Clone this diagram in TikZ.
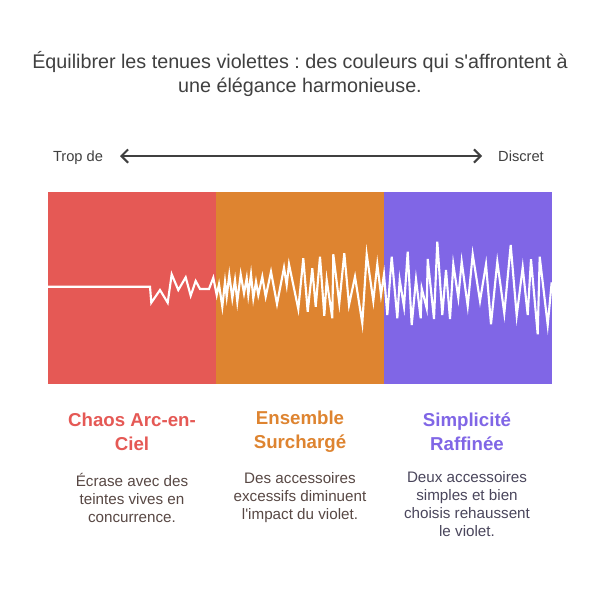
\documentclass[tikz,border=0pt]{standalone}
\usepackage{fontspec}
\setmainfont{Liberation Sans}
\usetikzlibrary{arrows.meta}
\frenchspacing
\definecolor{chaosred}{RGB}{229,89,85}
\definecolor{surorange}{RGB}{222,132,48}
\definecolor{simpurple}{RGB}{128,102,230}
\definecolor{titlegrey}{RGB}{64,64,64}
\definecolor{bodybrown}{RGB}{88,72,68}
\definecolor{bodyslate}{RGB}{74,70,92}
\tikzset{
	band/.style={fill=#1,draw=none},
	heading/.style={text=#1,font=\fontsize{14}{18}\selectfont\bfseries,align=center,inner sep=0pt},
	blurb/.style={text=#1,font=\fontsize{11.4}{13.5}\selectfont,align=center,inner sep=0pt},
	endlabel/.style={text=titlegrey,font=\fontsize{11}{13}\selectfont,inner sep=0pt,text height=8pt,text depth=0pt}
}
\begin{document}
\begin{tikzpicture}[x=0.75pt,y=-0.75pt]
	\useasboundingbox (0,0) rectangle (600,589);
	\fill[white] (0,0) rectangle (600,589);

	\node[text=titlegrey,font=\fontsize{14.8}{18}\selectfont,align=center,inner sep=0pt] (title) at (300,74)
		{Équilibrer les tenues violettes : des couleurs qui s\textquotesingle affrontent à\\une élégance harmonieuse.};

	\node[endlabel] (trop) at (78,156) {Trop de};
	\node[endlabel] (discret) at (521,156) {Discret};
	\coordinate (left) at (120,156);
	\coordinate (right) at (482,156);
	\draw[titlegrey,line width=1.5pt,{Straight Barb[length=5pt,width=10pt]}-{Straight Barb[length=5pt,width=10pt]}] (left) -- (right);

	\fill[band=chaosred] (48,192) rectangle (216,384);
	\fill[band=surorange] (216,192) rectangle (384,384);
	\fill[band=simpurple] (384,192) rectangle (552,384);

	\draw[white,line width=1.6pt,line join=miter] (48,286.7) -- (150,286.7)
		-- (151.3,302.7) -- (160,290) -- (167.7,302.7) -- (171.7,274.3) -- (178.3,290)
		-- (185.7,277.3) -- (190.7,295.7) -- (195.7,281) -- (200,289) -- (209,289)
		-- (213.3,277.7) -- (216.7,295) -- (219,284.3) -- (222.3,306.7) -- (225,281.7)
		-- (226.7,296.7) -- (229.3,275) -- (232.3,298.3) -- (235,280) -- (237.3,301.7)
		-- (240.7,274.3) -- (244,293.3) -- (246.7,278.3) -- (248.3,295) -- (251,274.3)
		-- (253.3,298.3) -- (256,281.7) -- (258.3,295) -- (262.3,276.7) -- (265.7,296.7)
		-- (271,271.7) -- (277,304) -- (284,267.7) -- (286.7,285) -- (289,264.3)
		-- (298.3,309) -- (303.3,258.3) -- (307.7,311.7) -- (312.3,268.3) -- (315.7,306.7)
		-- (320,256.7) -- (324.3,315.7) -- (326.7,280) -- (332.3,318.3) -- (333.3,254.3)
		-- (339.3,303.3) -- (344.3,253.3) -- (349,305) -- (355,276.7) -- (362.3,323.3)
		-- (366.7,254.3) -- (373.3,301) -- (377.3,264.3) -- (381,295) -- (384,274.3)
		-- (387.3,315) -- (391.7,256.7) -- (397.3,318.3) -- (399.7,280) -- (404,306.7)
		-- (407.7,251.7) -- (411.7,325) -- (416,279.3) -- (420.7,318.3) -- (421.7,288.3)
		-- (426.7,308.3) -- (427.7,259) -- (434,319) -- (437.3,241.7) -- (442.3,315)
		-- (446,270) -- (450,319) -- (453.3,264.3) -- (458.3,297.7) -- (461.7,261.7)
		-- (467.7,306) -- (472.7,254.3) -- (480,301) -- (486,264.3) -- (491,324.3)
		-- (497.3,261.7) -- (504.3,313.3) -- (510.7,245) -- (516.7,315.7) -- (522.7,267.3)
		-- (527.7,315) -- (531,259.3) -- (537.7,334.3) -- (539.7,256.7) -- (547.7,325)
		-- (551.7,282.3);

	\node[heading=chaosred] (chaos) at (132,432) {Chaos Arc-en-\\Ciel};
	\node[heading=surorange] (surcharge) at (300,432) {Ensemble\\Surchargé};
	\node[heading=simpurple] (simple) at (467,432) {Simplicité\\Raffinée};

	\node[blurb=bodybrown] (chaostext) at (132,498) {Écrase avec des\\teintes vives en\\concurrence.};
	\node[blurb=bodybrown] (surchargetext) at (300,498) {Des accessoires\\excessifs diminuent\\l\textquotesingle impact du violet.};
	\node[blurb=bodyslate] (simpletext) at (467,504) {Deux accessoires\\simples et bien\\choisis rehaussent\\le violet.};
\end{tikzpicture}
\end{document}
